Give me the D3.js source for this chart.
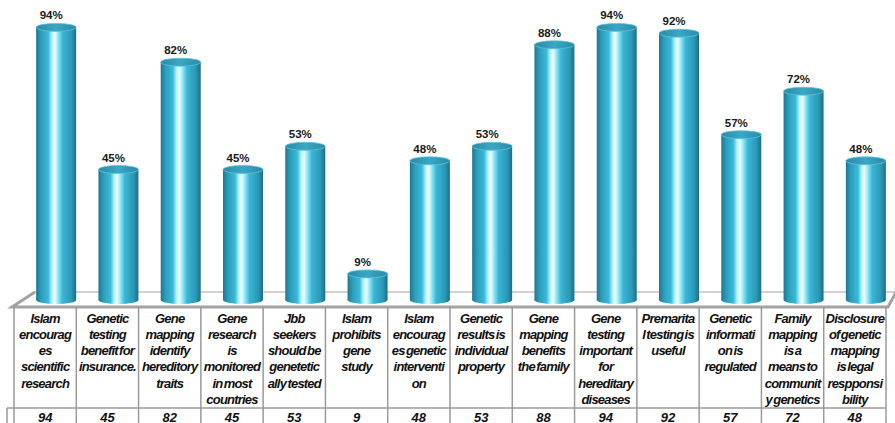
<!DOCTYPE html>
<html>
<head>
<meta charset="utf-8">
<script src="https://cdn.jsdelivr.net/npm/d3@7/dist/d3.min.js"></script>
<style>
  body { margin: 0; background: #fff; }
  svg { display: block; }
</style>
</head>
<body>
<div id="chart"></div>
<script>
var width = 895, height = 423;

// categories, written as the lines they wrap to in the table
var categories = [
  ["Islam", "encourag", "es", "scientific", "research"],
  ["Genetic", "testing", "benefit for", "insurance."],
  ["Gene", "mapping", "identify", "hereditory", "traits"],
  ["Gene", "research", "is", "monitored", "in most", "countries"],
  ["Jbb", "seekers", "should be", "genetetic", "ally tested"],
  ["Islam", "prohibits", "gene", "study"],
  ["Islam", "encourag", "es genetic", "interventi", "on"],
  ["Genetic", "results is", "individual", "property"],
  ["Gene", "mapping", "benefits", "the family"],
  ["Gene", "testing", "important", "for", "hereditary", "diseases"],
  ["Premarita", "l testing is", "useful"],
  ["Genetic", "informati", "on is", "regulated"],
  ["Family", "mapping", "is a", "means to", "communit", "y genetics"],
  ["Disclosure", "of genetic", "mapping", "is legal", "respponsi", "bility"]
];
var values = [94, 45, 82, 45, 53, 9, 48, 53, 88, 94, 92, 57, 72, 48];

var svg = d3.select("#chart").append("svg")
    .attr("width", width)
    .attr("height", height);

var defs = svg.append("defs");
var grad = defs.append("linearGradient")
    .attr("id", "cyl")
    .attr("x1", "0%").attr("x2", "100%").attr("y1", "0%").attr("y2", "0%");
[["0%", "#1f7690"], ["12%", "#2b9dbb"], ["30%", "#3bb9d8"], ["39%", "#a6f2ff"],
 ["46%", "#f4ffff"], ["54%", "#98eafa"], ["66%", "#3ab6d5"], ["88%", "#2a98b6"],
 ["100%", "#1c6e86"]].forEach(function(s) {
  grad.append("stop").attr("offset", s[0]).attr("stop-color", s[1]);
});
var topGrad = defs.append("linearGradient")
    .attr("id", "cyltop")
    .attr("x1", "0%").attr("x2", "100%").attr("y1", "0%").attr("y2", "0%");
[["0%", "#2a8aa6"], ["50%", "#3aa7c4"], ["100%", "#2a8aa6"]].forEach(function(s) {
  topGrad.append("stop").attr("offset", s[0]).attr("stop-color", s[1]);
});

var x = d3.scaleBand()
    .domain(d3.range(values.length))
    .range([14, 886])
    .padding(0);

var y = d3.scaleLinear()
    .domain([0, 100])
    .range([300, 10]);

var depthShift = 11, barW = 40, ry = 4;
var floorFront = 307, floorBack = 292;

// floor
svg.append("line")
    .attr("x1", 35).attr("y1", floorBack).attr("x2", 895).attr("y2", floorBack)
    .attr("stroke", "#a6a6a6").attr("stroke-width", 1.2);
svg.append("polyline")
    .attr("points", [[35, floorBack], [12, floorFront], [888, floorFront], [900, floorBack - 7]].join(" "))
    .attr("fill", "none")
    .attr("stroke", "#a3a3a3").attr("stroke-width", 3);

// cylinders
var bar = svg.selectAll("g.bar")
    .data(values)
    .enter().append("g")
    .attr("class", "bar")
    .attr("transform", function(d, i) {
      return "translate(" + (x(i) + x.bandwidth() / 2 + depthShift) + ",0)";
    });

bar.append("ellipse")
    .attr("cx", 0).attr("cy", y(0))
    .attr("rx", barW / 2).attr("ry", ry)
    .attr("fill", "url(#cyl)");
bar.append("rect")
    .attr("x", -barW / 2)
    .attr("y", function(d) { return y(d); })
    .attr("width", barW)
    .attr("height", function(d) { return y(0) - y(d); })
    .attr("fill", "url(#cyl)");
bar.append("ellipse")
    .attr("cx", 0).attr("cy", function(d) { return y(d); })
    .attr("rx", barW / 2).attr("ry", ry)
    .attr("fill", "url(#cyltop)")
    .attr("stroke", "#5cc3dc").attr("stroke-width", 0.8);

bar.append("text")
    .text(function(d) { return d + "%"; })
    .attr("x", -5)
    .attr("y", function(d) { return y(d) - 8; })
    .attr("text-anchor", "middle")
    .attr("font-family", "Liberation Sans, Arial, sans-serif")
    .attr("font-weight", "bold")
    .attr("font-size", "11.5px")
    .attr("fill", "#1a1a1a");

// data table
var grid = svg.append("g")
    .attr("stroke", "#9a9a9a")
    .attr("stroke-width", 1.5);
d3.range(values.length + 1).forEach(function(i) {
  var xx = i < values.length ? x(i) : x.range()[1];
  grid.append("line")
      .attr("x1", xx).attr("x2", xx)
      .attr("y1", floorFront).attr("y2", height);
});
grid.append("line")
    .attr("x1", 7).attr("x2", 886).attr("y1", 408).attr("y2", 408);
grid.append("line")
    .attr("x1", 7).attr("x2", 7).attr("y1", 408).attr("y2", height);

var font = "Liberation Sans, Arial, sans-serif";

var cat = svg.selectAll("text.cat")
    .data(categories)
    .enter().append("text")
    .attr("class", "cat")
    .attr("text-anchor", "middle")
    .attr("font-family", font)
    .attr("font-weight", "bold")
    .attr("font-style", "italic")
    .attr("font-size", "13px")
    .attr("letter-spacing", "-0.8px")
    .attr("word-spacing", "-1.5px")
    .attr("fill", "#111");
cat.selectAll("tspan")
    .data(function(d, i) { return d.map(function(l) { return { line: l, i: i }; }); })
    .enter().append("tspan")
    .attr("x", function(d) { return x(d.i) + x.bandwidth() / 2; })
    .attr("y", function(d, j) { return 322.5 + j * 16.3; })
    .text(function(d) { return d.line; });

svg.selectAll("text.val")
    .data(values)
    .enter().append("text")
    .attr("class", "val")
    .attr("x", function(d, i) { return x(i) + x.bandwidth() / 2; })
    .attr("y", 421.5)
    .attr("text-anchor", "middle")
    .attr("font-family", font)
    .attr("font-weight", "bold")
    .attr("font-style", "italic")
    .attr("font-size", "13px")
    .attr("fill", "#111")
    .text(function(d) { return d; });
</script>
</body>
</html>
